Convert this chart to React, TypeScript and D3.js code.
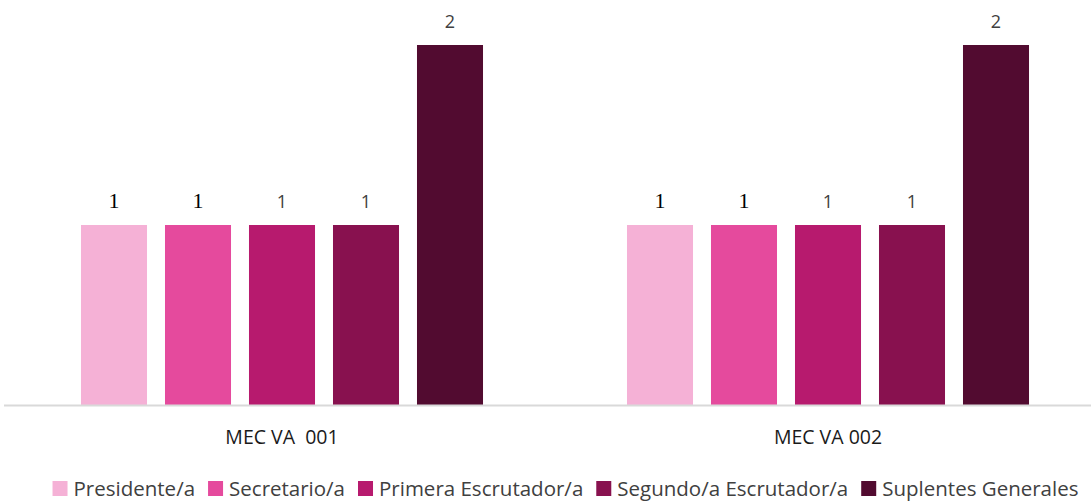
import React, { useEffect, useRef } from "react";
import * as d3 from "d3";

const categories = ["MEC VA  001", "MEC VA 002"];
const seriesNames = ["Presidente/a", "Secretario/a", "Primera Escrutador/a", "Segundo/a Escrutador/a", "Suplentes Generales"];
const seriesColors = ["#f5b1d6", "#e54a9d", "#b71a6e", "#88114f", "#520b30"];
const valuesMEC001 = [1, 1, 1, 1, 2];
const valuesMEC002 = [1, 1, 1, 1, 2];
const labelSerif = [true, true, false, false, false];

const W = 1091;
const H = 501;

export default function App() {
  const ref = useRef<SVGSVGElement>(null);
  useEffect(() => {
    const svg = d3.select(ref.current);
    svg.selectAll("*").remove();
    const data = [valuesMEC001, valuesMEC002];
    const x0 = d3.scaleBand<string>().domain(categories).range([9, 1101]).paddingInner(0).paddingOuter(0);
    const x1 = d3.scaleBand<string>().domain(seriesNames).range([0, x0.bandwidth()]).paddingInner(0.214).paddingOuter(0.857);
    const y = d3.scaleLinear().domain([0, 2]).range([405, 45]);

    categories.forEach((c, ci) => {
      const g = svg.append("g").attr("transform", `translate(${x0(c)},0)`);
      seriesNames.forEach((s, si) => {
        const v = data[ci][si];
        g.append("rect")
          .attr("x", x1(s)!)
          .attr("y", y(v))
          .attr("width", x1.bandwidth())
          .attr("height", y(0) - y(v))
          .attr("fill", seriesColors[si]);
        g.append("text")
          .attr("x", x1(s)! + x1.bandwidth() / 2)
          .attr("y", y(v) - 17)
          .attr("text-anchor", "middle")
          .attr("font-family", labelSerif[si] ? "Liberation Serif, serif" : "Open Sans, sans-serif")
          .attr("font-size", labelSerif[si] ? 22 : 18)
          .attr("fill", labelSerif[si] ? "#000" : "#404040")
          .text(String(v));
      });
      svg.append("text")
        .attr("x", x0(c)! + x0.bandwidth() / 2)
        .attr("y", 444)
        .attr("text-anchor", "middle")
        .attr("font-family", "Open Sans, sans-serif")
        .attr("font-size", 19.5)
        .attr("fill", "#1a1a1a")
        .style("white-space", "pre")
        .text(c);
    });

    svg.append("line")
      .attr("x1", 4).attr("x2", W)
      .attr("y1", 405.5).attr("y2", 405.5)
      .attr("stroke", "#d9d9d9").attr("stroke-width", 2);

    // legend
    const lg = svg.append("g");
    const items: { g: any; w: number }[] = [];
    seriesNames.forEach((s, si) => {
      const g = lg.append("g");
      g.append("rect").attr("x", 0).attr("y", 481).attr("width", 15).attr("height", 15).attr("fill", seriesColors[si]);
      const t = g.append("text")
        .attr("x", 21).attr("y", 496)
        .attr("font-family", "Open Sans, sans-serif")
        .attr("font-size", 20.5)
        .attr("fill", "#404040")
        .text(s);
      const w = 21 + (t.node() as SVGTextElement).getComputedTextLength();
      items.push({ g, w });
    });
    const gap = 13;
    const total = items.reduce((a, b) => a + b.w, 0) + gap * (items.length - 1);
    let cx = 48 + (1035 - total) / 2;
    items.forEach((it) => {
      it.g.attr("transform", `translate(${cx},0)`);
      cx += it.w + gap;
    });
  }, []);
  return <svg ref={ref} width={W} height={H} style={{ display: "block", position: "absolute", left: 0, top: 0 }} />;
}
